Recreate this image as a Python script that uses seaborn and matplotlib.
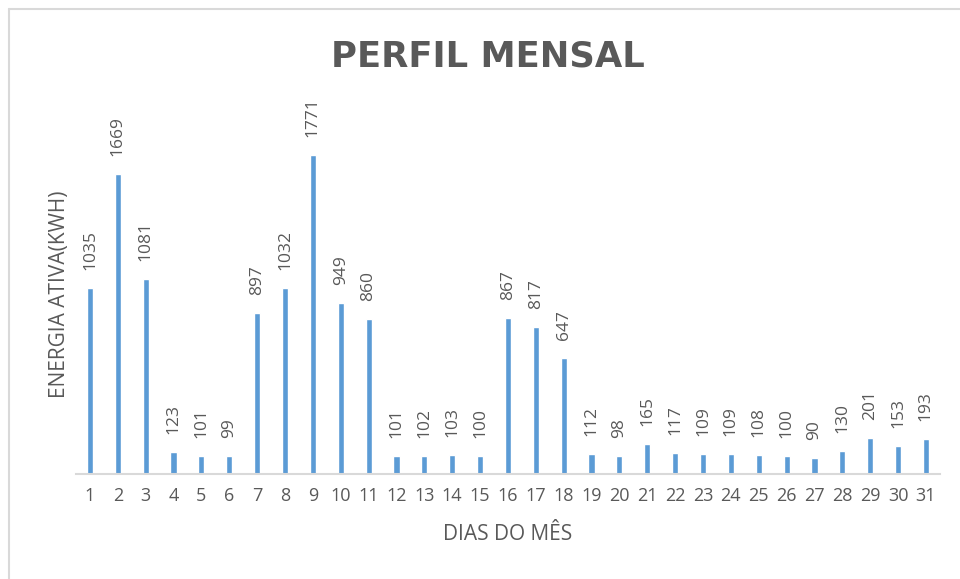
import matplotlib.pyplot as plt
import seaborn as sns
import pandas as pd
from matplotlib.lines import Line2D

# data
dias = [str(d) for d in range(1, 32)]
energia = [1035, 1669, 1081, 123, 101, 99, 897, 1032, 1771, 949, 860,
           101, 102, 103, 100, 867, 817, 647, 112, 98, 165, 117, 109,
           109, 108, 100, 90, 130, 201, 153, 193]

df = pd.DataFrame({"dia": dias, "kwh": energia})

sns.set_style("white")
plt.rcParams['font.family'] = ['Open Sans', 'DejaVu Sans']
txt = '#595959'

fig = plt.figure(figsize=(9.6, 5.79), dpi=100)
ax = fig.add_axes([0.0792, 0.1813, 0.8998, 0.6217])

sns.barplot(data=df, x="dia", y="kwh", color='#5B9BD5', width=0.22,
            saturation=1, ax=ax)

ax.bar_label(ax.containers[0], labels=[str(v) for v in energia],
             rotation=90, padding=13, fontsize=12.5, color=txt)

ax.set_ylim(0, 2000)
ax.set_xlim(-0.5, 30.5)
ax.set_yticks([])
for s in ['top', 'right', 'left']:
    ax.spines[s].set_visible(False)
ax.spines['bottom'].set_color('#D9D9D9')
ax.spines['bottom'].set_linewidth(1.5)
ax.tick_params(axis='x', length=0, pad=9, labelsize=13, labelcolor=txt)

ax.set_xlabel('DIAS DO MÊS', fontsize=15, color=txt, labelpad=14)
ax.set_ylabel('ENERGIA ATIVA(KWH)', fontsize=15, color=txt, labelpad=4)

fig.text(0.508, 0.902, 'PERFIL MENSAL', ha='center', va='center',
         fontsize=25.5, fontweight='bold', color=txt, family='DejaVu Sans')

# outer chart border (left and top visible)
fig.add_artist(Line2D([0.0095, 0.0095], [0.0, 0.985], transform=fig.transFigure,
                      color='#D9D9D9', linewidth=1.5))
fig.add_artist(Line2D([0.0095, 1.0], [0.985, 0.985], transform=fig.transFigure,
                      color='#D9D9D9', linewidth=1.5))

fig.savefig('out.png', dpi=100)
